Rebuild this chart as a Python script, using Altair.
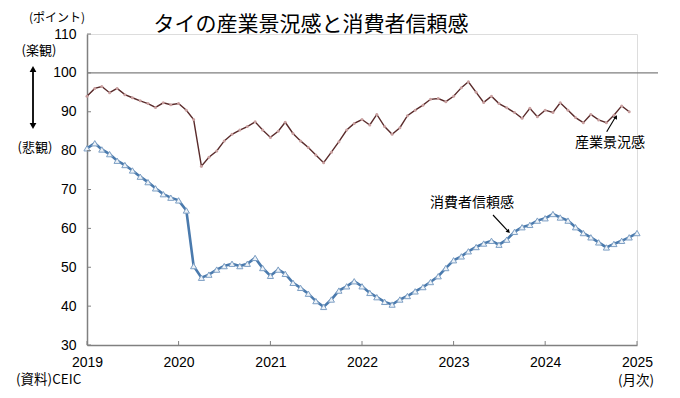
import altair as alt
import pandas as pd

# 産業景況感 (2019-01 .. 2024-12)
business = [94.0, 96.0, 96.5, 94.9, 96.0, 94.4, 93.6, 92.8, 92.1, 91.1, 92.3, 91.8,
            92.1, 90.4, 88.0, 76.0, 78.3, 79.9, 82.5, 84.2, 85.3, 86.2, 87.4, 85.3,
            83.4, 85.0, 87.3, 84.4, 82.5, 80.8, 78.9, 76.9, 79.6, 82.3, 85.3, 87.0,
            88.0, 86.6, 89.3, 86.2, 84.2, 85.9, 89.0, 90.4, 91.7, 93.2, 93.4, 92.6,
            94.0, 96.2, 97.7, 95.0, 92.4, 94.0, 92.1, 91.0, 89.8, 88.3, 90.9, 88.7,
            90.4, 89.8, 92.3, 90.4, 88.5, 87.2, 89.3, 87.9, 87.2, 89.1, 91.5, 90.0]
# 消費者信頼感 (2019-01 .. 2025-01)
consumer = [80.6, 81.9, 80.3, 79.1, 77.4, 76.3, 74.9, 73.3, 71.9, 70.3, 68.8, 67.9,
            67.2, 64.6, 50.3, 47.3, 48.1, 49.4, 50.3, 50.9, 50.3, 50.9, 52.4, 49.8,
            47.8, 49.4, 48.3, 46.0, 44.7, 43.2, 41.3, 39.8, 41.7, 44.0, 45.1, 46.4,
            45.1, 43.4, 42.3, 41.1, 40.4, 41.7, 42.6, 43.8, 44.9, 46.2, 47.7, 49.8,
            51.8, 52.8, 54.1, 55.2, 56.1, 56.8, 55.8, 57.1, 59.1, 60.3, 60.9, 62.0,
            62.6, 63.7, 62.8, 62.0, 60.3, 58.8, 57.7, 56.4, 55.1, 56.0, 56.8, 57.7, 58.8]
y_ticks = [30, 40, 50, 60, 70, 80, 90, 100, 110]
year_ticks = ["2019-01-01", "2020-01-01", "2021-01-01", "2022-01-01",
              "2023-01-01", "2024-01-01", "2025-01-01"]

months_b = pd.date_range("2019-01-01", periods=len(business), freq="MS")
months_c = pd.date_range("2019-01-01", periods=len(consumer), freq="MS")
df_b = pd.DataFrame({"date": months_b, "value": business})
df_c = pd.DataFrame({"date": months_c, "value": consumer})
df_y = pd.DataFrame({"v": y_ticks})
df_x = pd.DataFrame({"d": pd.to_datetime(year_ticks)})

W, H = 550, 311
JP = "Noto Sans CJK JP"
NUM = "Liberation Sans"

xscale = alt.Scale(domain=["2019-01-01", "2025-01-01"])
yscale = alt.Scale(domain=[30, 110], nice=False)

xaxis = alt.Axis(title=None, format="%Y", values=year_ticks, labelPadding=10)
yaxis = alt.Axis(title=None, values=y_ticks, labelPadding=11)

ref100 = alt.Chart(df_y).transform_filter("datum.v == 100").mark_rule(
    color="#7f7f7f", strokeWidth=1.2).encode(
    y=alt.Y("v:Q", scale=yscale, axis=yaxis), x=alt.value(0), x2=alt.value(571))

ytick = alt.Chart(df_y).mark_rule(color="#808080", strokeWidth=1).encode(
    y=alt.Y("v:Q", scale=yscale, axis=yaxis), x=alt.value(0), x2=alt.value(4))
xtick = alt.Chart(df_x).mark_rule(color="#808080", strokeWidth=1).encode(
    x=alt.X("d:T", scale=xscale, axis=xaxis), y=alt.value(H), y2=alt.value(H - 4))

x_enc = alt.X("date:T", scale=xscale, axis=xaxis)
y_enc = alt.Y("value:Q", scale=yscale, axis=yaxis)

b_line = alt.Chart(df_b).mark_line(color="#5a2b2b", strokeWidth=1.4).encode(x=x_enc, y=y_enc)
b_pts = alt.Chart(df_b).mark_point(shape="circle", filled=True, size=9,
                                   color="#c9a0a0", opacity=1).encode(x=x_enc, y=y_enc)
c_line = alt.Chart(df_c).mark_line(color="#4a7aad", strokeWidth=2.6).encode(x=x_enc, y=y_enc)
c_pts = alt.Chart(df_c).mark_point(shape="triangle-up", filled=True, size=38,
                                   fill="#eef3f8", stroke="#7d9fc4", strokeWidth=1,
                                   opacity=1).encode(x=x_enc, y=y_enc)


def label(text, x, y, size=14, font=JP, align="center", baseline="middle"):
    return alt.Chart(df_y).transform_filter("datum.v == 30").mark_text(
        text=text, font=font, fontSize=size, align=align, baseline=baseline,
        color="black").encode(x=alt.value(x), y=alt.value(y))


def seg(x1, y1, x2, y2, w=1.1):
    return alt.Chart(df_y).transform_filter("datum.v == 30").mark_rule(
        color="black", strokeWidth=w).encode(
        x=alt.value(x1), y=alt.value(y1), x2=alt.value(x2), y2=alt.value(y2))


def head(x, y, angle, size=30):
    return alt.Chart(df_y).transform_filter("datum.v == 30").mark_point(
        shape="triangle-up", filled=True, size=size, color="black", opacity=1,
        angle=angle).encode(x=alt.value(x), y=alt.value(y))


texts = [
    label("タイの産業景況感と消費者信頼感", 224, -9, size=21),
    label("(ポイント)", -30, -16, size=12),
    label("(楽観)", -48, 17, size=13),
    label("(悲観)", -52, 114, size=13),
    label("(資料)CEIC", -71, 346, size=13.5, align="left"),
    label("(月次)", 549, 347, size=13.5),
    label("産業景況感", 523, 109, size=14),
    label("消費者信頼感", 385, 169, size=14),
]
arrows = [
    seg(-54, 36, -54, 91, w=1.8), head(-54, 35, 0, 45), head(-54, 92, 180, 45),
    seg(519.7, 97.7, 528.5, 83), head(529, 83, 31, 20),
    seg(406, 181, 421.5, 197.6), head(421.5, 197.6, 137, 20),
]

chart = alt.layer(ref100, b_line, b_pts, c_line, c_pts, ytick, xtick, *texts, *arrows).properties(
    width=W, height=H,
    padding={"left": 79, "top": 26, "right": 30, "bottom": 43},
    autosize=alt.AutoSizeParams(type="none"),
).configure_view(stroke=None).configure(background="white").configure_axis(
    ticks=False, grid=False, labelFont=NUM, labelFontSize=14, labelColor="black",
    domainColor="#808080", domainWidth=1.5, labelFlush=False, labelOverlap=False,
)

chart.save("out.html", embed_options={"renderer": "svg", "actions": False})
